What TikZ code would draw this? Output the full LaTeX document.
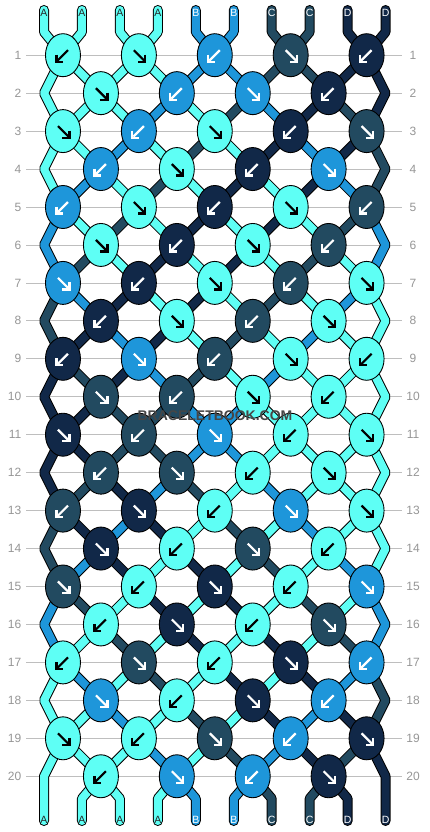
\documentclass[tikz,border=0pt]{standalone}
\usepackage{fontspec}
\setmainfont{Liberation Sans}
\usetikzlibrary{shapes.geometric}
\definecolor{colA}{RGB}{94,255,245}
\definecolor{colB}{RGB}{30,150,218}
\definecolor{colC}{RGB}{34,74,96}
\definecolor{colD}{RGB}{17,40,72}
\definecolor{gridgray}{RGB}{190,190,190}
\definecolor{numgray}{RGB}{150,150,150}
\definecolor{wmgray}{RGB}{70,70,70}
\tikzset{
  soutline/.style={draw=black,line width=10pt,line join=bevel},
  sfill/.style={draw=#1,line width=8pt,line join=bevel},
  knot/.style={ellipse,draw=black,line width=0.9pt,minimum width=35pt,minimum height=43pt,inner sep=0pt},
  arrA/.style={color=black},
  arrB/.style={color=white},
  arrC/.style={color=white},
  arrD/.style={color=white},
  dirR/.style={},
  dirL/.style={xscale=-1},
  rownum/.style={text=numgray,font=\fontsize{12}{12}\selectfont,inner sep=0pt},
  strlab/.style={font=\fontsize{10.5}{11}\selectfont,inner sep=0pt},
  labA/.style={text=black!85},
  labB/.style={text=white},
  labC/.style={text=white},
  labD/.style={text=white},
  wm/.style={font=\bfseries\fontsize{14}{15}\selectfont,inner sep=0pt}
}
\newcommand\segrow[3]{%
  \pgfmathtruncatemacro\rnext{#1+1}%
  \foreach \sc [count=\pp] in {#3} {%
    \ifnum\pp>1 \ifnum\pp<10
      \draw[#2=col\sc] (P-#1-\pp) -- (P-\rnext-\pp);
    \fi\fi
  }%
}
\newcommand\allstrings[1]{%
  \foreach \sc [count=\pp] in {A,A,A,A,B,B,C,C,D,D}
    \draw[#1=col\sc, line cap=round] (T-\pp) -- (TB-\pp) -- (P-1-\pp);
  \segrow{1}{#1}{A,A,A,A,B,B,C,C,D,D}
  \segrow{2}{#1}{A,A,A,B,A,C,B,D,C,D}
  \segrow{3}{#1}{A,A,B,A,C,A,D,B,D,C}
  \segrow{4}{#1}{A,B,A,C,A,D,A,D,B,C}
  \segrow{5}{#1}{B,A,C,A,D,A,D,A,C,B}
  \segrow{6}{#1}{B,C,A,D,A,D,A,C,A,B}
  \segrow{7}{#1}{C,B,D,A,D,A,C,A,B,A}
  \segrow{8}{#1}{C,D,B,D,A,C,A,B,A,A}
  \segrow{9}{#1}{D,C,D,B,C,A,B,A,A,A}
  \segrow{10}{#1}{D,D,C,C,B,B,A,A,A,A}
  \segrow{11}{#1}{D,D,C,C,B,B,A,A,A,A}
  \segrow{12}{#1}{D,C,D,B,C,A,B,A,A,A}
  \segrow{13}{#1}{C,D,B,D,A,C,A,B,A,A}
  \segrow{14}{#1}{C,B,D,A,D,A,C,A,B,A}
  \segrow{15}{#1}{B,C,A,D,A,D,A,C,A,B}
  \segrow{16}{#1}{B,A,C,A,D,A,D,A,C,B}
  \segrow{17}{#1}{A,B,A,C,A,D,A,D,B,C}
  \segrow{18}{#1}{A,A,B,A,C,A,D,B,D,C}
  \segrow{19}{#1}{A,A,A,B,A,C,B,D,C,D}
  \foreach \r/\cl/\cr in {2/A/D,4/A/C,6/B/B,8/C/A,10/D/A,12/D/A,14/C/A,16/B/B,18/A/C} {
    \pgfmathtruncatemacro\rp{\r-1}\pgfmathtruncatemacro\rn{\r+1}
    \draw[#1=col\cl] (P-\rp-1) -- (P-\r-1) -- (P-\rn-1);
    \draw[#1=col\cr] (P-\rp-10) -- (P-\r-10) -- (P-\rn-10);
  }
  \draw[#1=colA, line cap=round] (P-19-1) -- (P-20-1) -- (BE-1);
  \draw[#1=colD, line cap=round] (P-19-10) -- (P-20-10) -- (BE-10);
  \foreach \sc [count=\ii] in {A,A,A,B,B,C,C,D} {
    \pgfmathtruncatemacro\pp{\ii+1}
    \draw[#1=col\sc, line cap=round] (P-20-\pp) -- (BB-\pp) -- (BE-\pp);
  }
}
\newcommand\knotrow[2]{%
  \foreach \kc/\kd [count=\k] in {#2} {%
    \pgfmathtruncatemacro\pp{mod(#1,2)==1 ? 2*\k-1 : 2*\k}%
    \node[knot, fill=col\kc] (K-#1-\k) at (P-#1-\pp) {};
    \begin{scope}[shift={(K-#1-\k.center)}, dir\kd, arr\kc, line width=2.2pt]
      \draw (-5,-5) -- (5.5,5.5);
      \draw[line join=miter] (6.5,-0.5) -- (6.5,6.5) -- (-0.5,6.5);
    \end{scope}
  }%
}
\begin{document}
\begin{tikzpicture}[x=1pt,y=-1pt,
  declare function={
    ry(\r)=55.2+37.95*(\r-1);
    sx(\p)=44+37.95*(\p-1);
    kx(\p,\r)=(mod(\r,2)==1) ? (44+37.95*(2*ceil(\p/2)-1.5)) : ((\p==1) ? 44 : ((\p==10) ? 385.55 : (44+37.95*(2*floor(\p/2)-0.5))));
  }]
\fill[white] (0,0) rectangle (430,832);
\useasboundingbox (0,0) rectangle (430,832);
% grid and row numbers
\foreach \r in {1,...,20} {
  \draw[gridgray, line width=0.8pt] (26,{ry(\r)}) -- (402,{ry(\r)});
  \node[rownum, anchor=east] (NL-\r) at (21.5,{ry(\r)}) {\r};
  \node[rownum] (NR-\r) at (413,{ry(\r)}) {\r};
}
% coordinates
\foreach \r in {1,...,20}
  \foreach \pp in {1,...,10}
    \coordinate (P-\r-\pp) at ({kx(\pp,\r)},{ry(\r)});
\foreach \pp in {1,...,10} {
  \coordinate (T-\pp) at ({sx(\pp)},10);
  \coordinate (TB-\pp) at ({sx(\pp)},32);
  \coordinate (BB-\pp) at ({sx(\pp)},798.5);
  \coordinate (BE-\pp) at ({sx(\pp)},821);
}
% strings
\allstrings{soutline}
\allstrings{sfill}
% string labels
\foreach \kc [count=\pp] in {A,A,A,A,B,B,C,C,D,D} {
  \node[strlab, lab\kc] (LT-\pp) at ({sx(\pp)},12.5) {\kc};
  \node[strlab, lab\kc] (LB-\pp) at ({sx(\pp)},819.5) {\kc};
}
% knots
\knotrow{1}{A/L,A/R,B/L,C/R,D/L}
\knotrow{2}{A/R,B/L,B/R,D/L}
\knotrow{3}{A/R,B/L,A/R,D/L,C/R}
\knotrow{4}{B/L,A/R,D/L,B/R}
\knotrow{5}{B/L,A/R,D/L,A/R,C/L}
\knotrow{6}{A/R,D/L,A/R,C/L}
\knotrow{7}{B/R,D/L,A/R,C/L,A/R}
\knotrow{8}{D/L,A/R,C/L,A/R}
\knotrow{9}{D/L,B/R,C/L,A/R,A/L}
\knotrow{10}{C/R,C/L,A/R,A/L}
\knotrow{11}{D/R,C/L,B/R,A/L,A/R}
\knotrow{12}{C/L,C/R,A/L,A/R}
\knotrow{13}{C/L,D/R,A/L,B/R,A/R}
\knotrow{14}{D/R,A/L,C/R,A/L}
\knotrow{15}{C/R,A/L,D/R,A/L,B/R}
\knotrow{16}{A/L,D/R,A/L,C/R}
\knotrow{17}{A/L,C/R,A/L,D/R,B/L}
\knotrow{18}{B/R,A/L,D/R,B/L}
\knotrow{19}{A/R,A/L,C/R,B/L,D/R}
\knotrow{20}{A/L,B/R,B/L,D/R}
% watermark
\node[wm, text=wmgray] (wm) at (215,415.5) {BRACELETBOOK.COM};
\end{tikzpicture}
\end{document}
